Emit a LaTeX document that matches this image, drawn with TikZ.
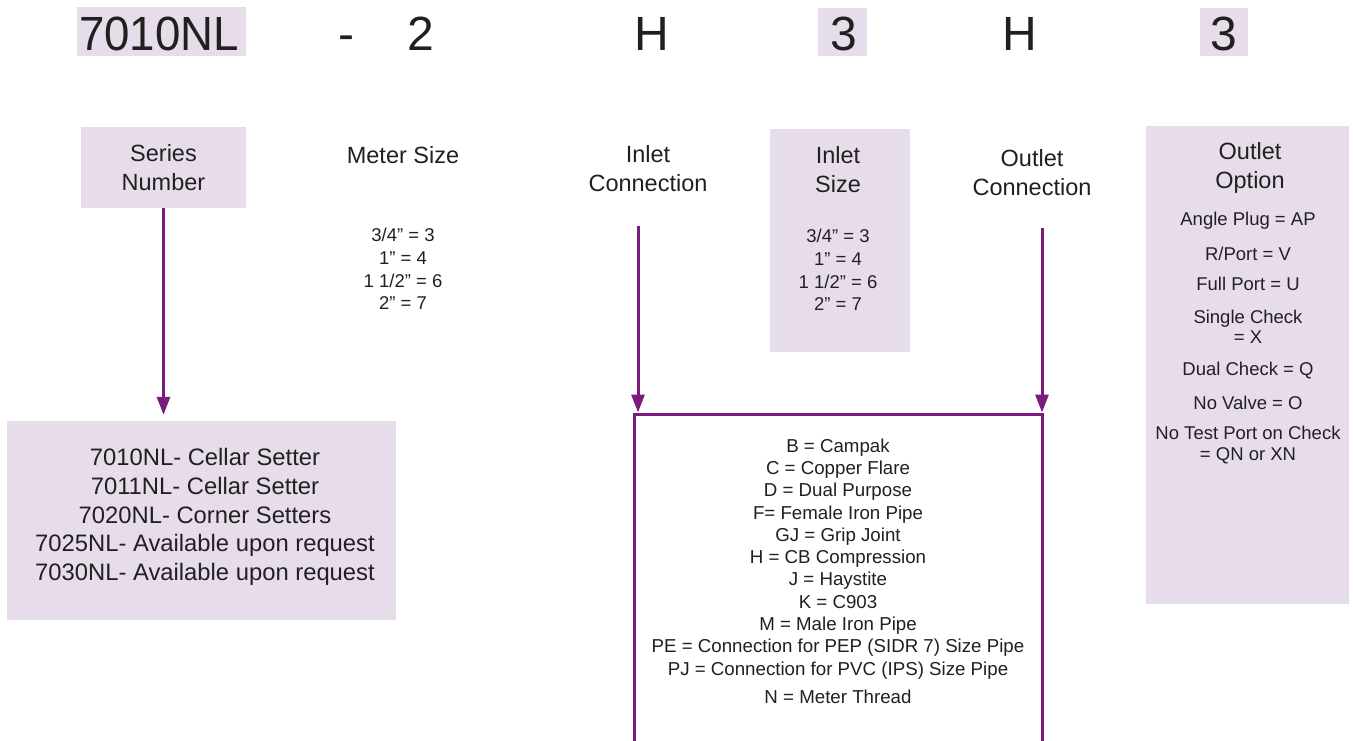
\documentclass[tikz,border=0pt]{standalone}
\usepackage{fontspec}
\setmainfont{Liberation Sans}
\usetikzlibrary{arrows.meta}
\definecolor{lav}{RGB}{231,221,234}
\definecolor{purp}{RGB}{120,28,125}
\definecolor{ink}{RGB}{35,31,32}
\begin{document}
\begin{tikzpicture}[x=1pt,y=-1pt,
  every node/.style={text=ink, inner sep=0pt},
  big/.style={font=\fontsize{48}{56}\selectfont, anchor=base},
  head/.style={font=\fontsize{23.5}{29}\selectfont, align=center},
  item/.style={font=\fontsize{18.5}{22.6}\selectfont, align=center},
  oitem/.style={font=\fontsize{18.5}{20.5}\selectfont, align=center},
  serlist/.style={font=\fontsize{23.8}{28.7}\selectfont, align=center},
  hl/.style={fill=lav, draw=none},
  arr/.style={draw=purp, line width=3pt, -{Triangle[width=13pt,length=18pt]}},
]
\useasboundingbox (0,0) rectangle (1353,740);
\fill[white] (0,0) rectangle (1353,740);

% top code row
\node[hl, minimum width=169pt, minimum height=49pt] (hlA) at (161.5,31.5) {};
\node[hl, minimum width=49pt, minimum height=48pt] (hlB) at (842.5,32) {};
\node[hl, minimum width=48pt, minimum height=48pt] (hlC) at (1224,32) {};
\node[big, xscale=0.95] (c1) at (159,50) {7010NL};
\node[big] (c2) at (346,50) {-};
\node[big] (c3) at (420.5,50) {2};
\node[big] (c4) at (652,50) {H};
\node[big] (c5) at (843.5,50) {3};
\node[big] (c6) at (1020,50) {H};
\node[big] (c7) at (1224,50) {3};

% background boxes
\node[hl, minimum width=140pt, minimum height=223pt] (isbox) at (840,240.5) {};
\node[hl, minimum width=203pt, minimum height=478pt] (oobox) at (1247.5,365) {};
\node[hl, minimum width=389pt, minimum height=199pt] (sl) at (201.5,520.5) {};

% series number
\node[hl, head, minimum width=165pt, minimum height=81pt] (sn) at (163.5,167.5) {Series\\Number};
\node[serlist] (sltext) at (205,517) {7010NL- Cellar Setter\\7011NL- Cellar Setter\\7020NL- Corner Setters\\7025NL- Available upon request\\7030NL- Available upon request};

% meter size
\node[head] (ms) at (403,155) {Meter Size};
\node[item] (mslist) at (403,269) {3/4” = 3\\1” = 4\\1 1/2” = 6\\2” = 7};

% inlet connection
\node[head] (ic) at (648,169) {Inlet\\Connection};

% inlet size
\node[head] (is) at (838,169.5) {Inlet\\Size};
\node[item] (islist) at (838,270) {3/4” = 3\\1” = 4\\1 1/2” = 6\\2” = 7};

% outlet connection
\node[head] (oc) at (1032,172.5) {Outlet\\Connection};

% outlet option
\node[head] (oo) at (1250,168) {Outlet\\Option};
\node[oitem] (oo1) at (1248,221) {Angle Plug = AP};
\node[oitem] (oo2) at (1248,254) {R/Port = V};
\node[oitem] (oo3) at (1248,284) {Full Port = U};
\node[oitem] (oo4) at (1248,327) {Single Check\\= X};
\node[oitem] (oo5) at (1248,371) {Dual Check = Q};
\node[oitem] (oo6) at (1248,403) {No Valve = O};
\node[oitem] (oo7) at (1248,445) {No Test Port on Check\\= QN or XN};

% connection list box
\node[draw=purp, line width=3pt, minimum width=408pt, minimum height=331pt] (bb) at (838,579.5) {};
\node[item, font=\fontsize{18.7}{22.3}\selectfont] (bblist) at (838,571) {B = Campak\\C = Copper Flare\\D = Dual Purpose\\F= Female Iron Pipe\\GJ = Grip Joint\\H = CB Compression\\J = Haystite\\K = C903\\M = Male Iron Pipe\\PE = Connection for PEP (SIDR 7) Size Pipe\\PJ = Connection for PVC (IPS) Size Pipe\\[5.7pt]N = Meter Thread};

% connectors
\coordinate (icTop) at (638,226);
\coordinate (ocTop) at (1042,228);
\draw[arr, shorten >=6pt] (sn.south) -- (sn.south |- sl.north);
\draw[arr] (icTop) -- (icTop |- bb.north);
\draw[arr] (ocTop) -- (ocTop |- bb.north);
\end{tikzpicture}
\end{document}
